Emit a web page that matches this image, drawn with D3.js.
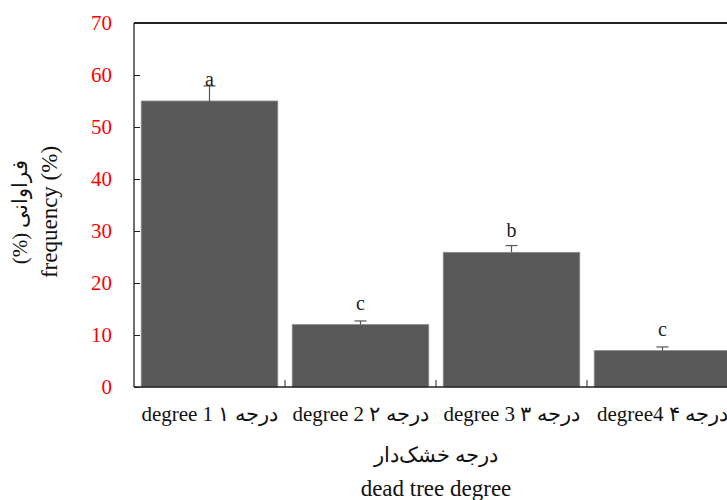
<!DOCTYPE html>
<html>
<head>
<meta charset="utf-8">
<script src="https://cdn.jsdelivr.net/npm/d3@7"></script>
<style>
  body { margin: 0; background: #fff; }
  text { font-family: "Liberation Serif", "Times New Roman", serif; }
</style>
</head>
<body>
<div id="chart"></div>
<script>
const categories = ["degree 1 درجه ۱", "degree 2 درجه ۲", "degree 3 درجه ۳", "degree4 درجه ۴"];
const values = [55, 12, 25.9, 7];
const errors = [2.9, 0.7, 1.3, 0.7];
const letters = ["a", "c", "b", "c"];
const yTicks = [0, 10, 20, 30, 40, 50, 60, 70];

const width = 727, height = 500;
const plotLeft = 134, plotRight = 738, plotTop = 23, plotBottom = 387;

const svg = d3.select("#chart")
    .append("svg")
    .attr("width", width)
    .attr("height", height);

const x = d3.scaleBand()
    .domain(categories)
    .range([plotLeft, plotRight])
    .paddingInner(0.096)
    .paddingOuter(0.048);

const y = d3.scaleLinear()
    .domain([0, 70])
    .range([plotBottom, plotTop]);

// bars
svg.append("g")
    .selectAll("rect")
    .data(values)
    .enter()
    .append("rect")
    .attr("x", (d, i) => x(categories[i]))
    .attr("y", d => y(d))
    .attr("width", x.bandwidth())
    .attr("height", d => y(0) - y(d))
    .attr("fill", "#595959")
    .attr("stroke", "#8a8a8a")
    .attr("stroke-width", 0.8);

// error bars
const err = svg.append("g")
    .attr("stroke", "#555")
    .attr("stroke-width", 1.2);

values.forEach((v, i) => {
    const cx = x(categories[i]) + x.bandwidth() / 2;
    err.append("line")
        .attr("x1", cx).attr("x2", cx)
        .attr("y1", y(v)).attr("y2", y(v + errors[i]));
    err.append("line")
        .attr("x1", cx - 6).attr("x2", cx + 6)
        .attr("y1", y(v + errors[i])).attr("y2", y(v + errors[i]));
});

// significance letters
svg.append("g")
    .selectAll("text")
    .data(letters)
    .enter()
    .append("text")
    .attr("x", (d, i) => x(categories[i]) + x.bandwidth() / 2)
    .attr("y", (d, i) => y(values[i]) - 15)
    .attr("text-anchor", "middle")
    .attr("font-size", 20)
    .attr("fill", "#222")
    .text(d => d);

// y axis, ticks inside
const yAxis = svg.append("g")
    .attr("transform", "translate(" + plotLeft + ",0)")
    .call(d3.axisRight(y).tickValues(yTicks).tickSize(6).tickFormat(""));
yAxis.select(".domain").remove();
yAxis.selectAll("line").attr("stroke", "#222");

svg.append("g")
    .selectAll("text")
    .data(yTicks)
    .enter()
    .append("text")
    .attr("x", 112)
    .attr("y", d => y(d))
    .attr("dy", "0.35em")
    .attr("text-anchor", "end")
    .attr("font-size", 21)
    .attr("fill", "#ff0000")
    .text(d => d);

// frame lines
svg.append("line")
    .attr("x1", plotLeft).attr("x2", plotLeft)
    .attr("y1", plotTop).attr("y2", plotBottom)
    .attr("stroke", "#222").attr("stroke-width", 1.3);
svg.append("line")
    .attr("x1", plotLeft).attr("x2", width)
    .attr("y1", plotTop).attr("y2", plotTop)
    .attr("stroke", "#222").attr("stroke-width", 2);
svg.append("line")
    .attr("x1", plotLeft).attr("x2", width)
    .attr("y1", plotBottom).attr("y2", plotBottom)
    .attr("stroke", "#222").attr("stroke-width", 1.3);

// category separator ticks on the x axis
const step = x.step();
const bounds = categories.map(c => x(c) - step * x.paddingInner() / 2).slice(1);
svg.append("g")
    .selectAll("line")
    .data(bounds)
    .enter()
    .append("line")
    .attr("x1", d => d).attr("x2", d => d)
    .attr("y1", plotBottom).attr("y2", plotBottom - 7)
    .attr("stroke", "#222");

// category labels
svg.append("g")
    .selectAll("text")
    .data(categories)
    .enter()
    .append("text")
    .attr("x", d => x(d) + x.bandwidth() / 2)
    .attr("y", 421)
    .attr("text-anchor", "middle")
    .attr("font-size", 21)
    .attr("fill", "#111")
    .text(d => d);

// x title
svg.append("text")
    .attr("x", 436)
    .attr("y", 462)
    .attr("text-anchor", "middle")
    .attr("font-size", 21)
    .attr("fill", "#111")
    .text("درجه خشک‌دار");
svg.append("text")
    .attr("x", 436)
    .attr("y", 496)
    .attr("text-anchor", "middle")
    .attr("font-size", 23)
    .attr("fill", "#111")
    .text("dead tree degree");

// y title
const yt = svg.append("g")
    .attr("transform", "translate(0,212) rotate(-90)");
yt.append("text")
    .attr("x", 0)
    .attr("y", 27)
    .attr("text-anchor", "middle")
    .attr("font-size", 21)
    .attr("fill", "#111")
    .text("(%) فراوانی");
yt.append("text")
    .attr("x", 0)
    .attr("y", 57)
    .attr("text-anchor", "middle")
    .attr("font-size", 23)
    .attr("fill", "#111")
    .text("frequency (%)");
</script>
</body>
</html>
